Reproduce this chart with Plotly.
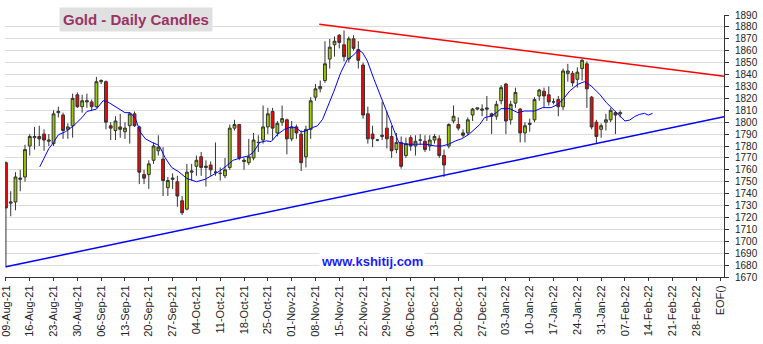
import plotly.graph_objects as go

# ---- data (trading-day index, OHLC) ----
opens  = [1766,1732,1733,1752,1754,1780,1787,1788,1790,1784,
          1782,1808,1806,1794,1797,1823,1813,1817,1817,1813,
          1834,1834,1797,1793,1796,1792,1797,1807,1796,1756,
          1756,1768,1776,1769,1745,1752,1750,1734,1727,1758,
          1763,1771,1762,1764,1758,1757,1755,1762,1795,1798,
          1767,1766,1770,1783,1785,1796,1809,1791,1800,1802,
          1786,1796,1790,1771,1794,1821,1828,1835,1853,1865,
          1873,1865,1853,1870,1861,1848,1807,1790,1785,1788,
          1795,1788,1777,1783,1772,1787,1780,1785,1784,1780,
          1785,1786,1772,1780,1801,1798,1791,1791,1806,1811,
          1810,1812,1807,1805,1818,1832,1802,1816,1811,1791,
          1798,1802,1822,1826,1823,1817,1819,1813,1841,1841,
          1836,1845,1849,1821,1800,1794,1800,1802,1808,1807]
highs  = [1767,1742,1758,1760,1781,1790,1796,1797,1794,1790,
          1810,1813,1808,1799,1824,1825,1823,1824,1819,1838,
          1836,1835,1800,1805,1807,1800,1808,1809,1797,1760,
          1768,1783,1789,1779,1754,1757,1755,1738,1765,1765,
          1772,1775,1768,1767,1783,1762,1770,1798,1802,1798,
          1770,1786,1791,1789,1814,1812,1812,1801,1814,1803,
          1801,1798,1793,1797,1821,1832,1835,1868,1870,1872,
          1874,1877,1872,1873,1868,1850,1813,1797,1786,1817,
          1809,1797,1791,1788,1787,1789,1789,1790,1789,1789,
          1790,1789,1777,1799,1814,1804,1794,1804,1812,1812,
          1815,1822,1808,1818,1831,1833,1818,1829,1812,1800,
          1803,1821,1828,1829,1830,1820,1822,1845,1849,1843,
          1846,1853,1851,1822,1802,1799,1807,1812,1809,1810]
lows   = [1678,1721,1726,1742,1750,1772,1777,1780,1776,1780,
          1780,1804,1786,1786,1787,1812,1808,1812,1810,1812,
          1832,1794,1785,1785,1787,1786,1782,1796,1748,1748,
          1744,1765,1772,1738,1738,1744,1729,1722,1726,1751,
          1755,1755,1746,1755,1755,1751,1753,1760,1793,1768,
          1760,1764,1768,1775,1782,1790,1785,1788,1797,1773,
          1784,1786,1759,1762,1786,1818,1825,1833,1845,1855,
          1862,1851,1850,1860,1845,1803,1782,1779,1784,1785,
          1778,1770,1774,1761,1770,1776,1772,1781,1775,1776,
          1782,1770,1754,1778,1799,1793,1787,1789,1801,1810,
          1805,1801,1790,1802,1815,1790,1798,1812,1783,1783,
          1792,1800,1818,1812,1814,1815,1805,1810,1834,1830,
          1829,1835,1812,1794,1782,1787,1793,1800,1790,1804]
closes = [1728,1733,1754,1753,1777,1788,1788,1786,1785,1785,
          1807,1809,1793,1796,1820,1813,1818,1818,1813,1834,
          1835,1800,1795,1801,1794,1795,1807,1797,1758,1753,
          1765,1780,1779,1751,1751,1753,1738,1724,1758,1759,
          1768,1762,1763,1760,1758,1757,1760,1795,1798,1770,
          1768,1771,1785,1783,1796,1807,1795,1799,1803,1786,
          1796,1791,1766,1794,1818,1828,1830,1849,1863,1868,
          1867,1855,1870,1862,1852,1806,1786,1786,1785,1789,
          1786,1776,1783,1763,1782,1780,1784,1785,1777,1785,
          1788,1772,1764,1798,1805,1795,1789,1802,1811,1812,
          1811,1811,1805,1815,1829,1801,1815,1825,1791,1797,
          1799,1819,1827,1822,1817,1817,1813,1843,1843,1833,
          1842,1852,1828,1796,1788,1797,1802,1810,1806,1808]

# moving-average line (index, value)
ma_x = [7.1, 9, 10, 11, 12.5, 14.2, 16, 17, 19, 20.4, 21.2, 22.6, 23.7, 25, 26.1,
        27.2, 28.2, 29.3, 30.7, 31.9, 32.4, 33.4, 34.8, 36.3, 38, 40, 41.8, 43.5,
        44.9, 46.3, 47.7, 49.5, 50.9, 51.9, 53.3, 54.7, 55.7, 57.1, 58.5, 59.9,
        60.9, 62, 63, 64.4, 65.4, 66.5, 67.5, 68.9, 70.3, 71.7, 72.8, 74, 74.9,
        75.9, 77.3, 78.7, 80.1, 81.5, 82.5, 83.9, 86, 88.1, 90.2, 91.6, 93, 94.4,
        95.8, 97.3, 99.5, 100.5, 101.9, 103, 104, 105.8, 107.5, 108.9, 111, 112.7,
        114.5, 115.9, 117, 118.4, 120.1, 121.5, 122.9, 124.7, 126.1, 127.8, 128.9,
        130, 131, 132, 133, 134.1, 134.9, 135.8]
ma_y = [1762.5, 1777.8, 1783, 1789.4, 1792, 1797, 1804, 1809, 1811, 1818, 1817.5,
        1814, 1811.7, 1808, 1808, 1803, 1791.7, 1786, 1783, 1781, 1778.7, 1770.3,
        1762, 1758.3, 1752.7, 1750, 1752, 1756, 1759, 1763.3, 1768, 1770.3, 1771.7,
        1774.5, 1783, 1784.3, 1783.7, 1790, 1794, 1796, 1795.5, 1791.8, 1792.7,
        1795.5, 1796.9, 1802.4, 1812.2, 1826.2, 1841.6, 1852.8, 1855.6, 1860.6,
        1858.4, 1851.4, 1836, 1822, 1808, 1794, 1782.9, 1781.5, 1781.5, 1781.5,
        1780, 1780, 1781.5, 1784.3, 1786.2, 1790, 1798, 1803.8, 1805.2, 1808,
        1811.4, 1811.4, 1808, 1809.4, 1809.4, 1812.2, 1812.2, 1815, 1819.2, 1826.2,
        1831.8, 1834, 1830.4, 1823.4, 1816.4, 1809.4, 1805.2, 1801, 1801.8, 1804.6,
        1806.5, 1807.4, 1806, 1807.4]

# trend lines (index, price)
res_x = [65.8, 150.8]
res_y = [1882.2, 1838.5]
sup_x = [0, 150.8]
sup_y = [1678.6, 1804.5]

# weekly tick labels
tick_labels = ["09-Aug-21", "16-Aug-21", "23-Aug-21", "30-Aug-21", "06-Sep-21",
               "13-Sep-21", "20-Sep-21", "27-Sep-21", "04-Oct-21", "11-Oct-21",
               "18-Oct-21", "25-Oct-21", "01-Nov-21", "08-Nov-21", "15-Nov-21",
               "22-Nov-21", "29-Nov-21", "06-Dec-21", "13-Dec-21", "20-Dec-21",
               "27-Dec-21", "03-Jan-22", "10-Jan-22", "17-Jan-22", "24-Jan-22",
               "31-Jan-22", "07-Feb-22", "14-Feb-22", "21-Feb-22", "28-Feb-22",
               "EOF()"]
tick_vals = [5 * k for k in range(len(tick_labels))]

idx = list(range(len(closes)))

fig = go.Figure()
fig.add_trace(go.Scatter(x=sup_x, y=sup_y, mode="lines",
                         line=dict(color="#0000ff", width=1.5), hoverinfo="skip"))
fig.add_trace(go.Scatter(x=res_x, y=res_y, mode="lines",
                         line=dict(color="#ff0000", width=1.5), hoverinfo="skip"))
fig.add_trace(go.Candlestick(
    x=idx, open=opens, high=highs, low=lows, close=closes,
    increasing=dict(line=dict(color="#333333", width=1), fillcolor="#99cc00"),
    decreasing=dict(line=dict(color="#333333", width=1), fillcolor="#ff0000"),
    whiskerwidth=0))
fig.add_trace(go.Scatter(x=ma_x, y=ma_y, mode="lines",
                         line=dict(color="#0000ff", width=1), hoverinfo="skip"))

font_family = "Liberation Sans Narrow, Arial Narrow, Liberation Sans, Arial, sans-serif"

fig.update_layout(
    width=763, height=344,
    margin=dict(l=5, r=39, t=15, b=67),
    paper_bgcolor="white", plot_bgcolor="white",
    showlegend=False,
    boxgap=0.15,
    xaxis=dict(range=[-0.2, 150.8], tickmode="array", tickvals=tick_vals,
               ticktext=tick_labels, tickangle=-90, showgrid=False, zeroline=False,
               showline=True, linecolor="#333333", linewidth=1,
               ticks="outside", ticklen=3, tickcolor="#333333",
               ticklabeloverflow="allow", automargin=False,
               tickfont=dict(family=font_family, size=11, color="#222222"),
               rangeslider=dict(visible=False)),
    yaxis=dict(range=[1670, 1890], side="right", dtick=10, tick0=1670,
               showgrid=True, gridcolor="#dcdcdc", gridwidth=1, zeroline=False,
               showline=True, linecolor="#333333", linewidth=1,
               ticks="outside", ticklen=4, tickcolor="#333333",
               ticklabelstandoff=4, automargin=False,
               tickfont=dict(family=font_family, size=10, color="#222222")),
    annotations=[
        dict(x=27.4, y=1886.2, xref="x", yref="y", text="<b>Gold - Daily Candles</b>",
             showarrow=False, bgcolor="#e0e0e0", borderpad=3,
             font=dict(family="Liberation Sans, Arial, sans-serif", size=15, color="#993366")),
        dict(x=76.9, y=1682.6, xref="x", yref="y", text="<b>www.kshitij.com</b>",
             showarrow=False, bgcolor="white", borderpad=1,
             font=dict(family="Liberation Sans, Arial, sans-serif", size=13, color="#1a1aff")),
    ],
)

fig.write_html("out.html")
